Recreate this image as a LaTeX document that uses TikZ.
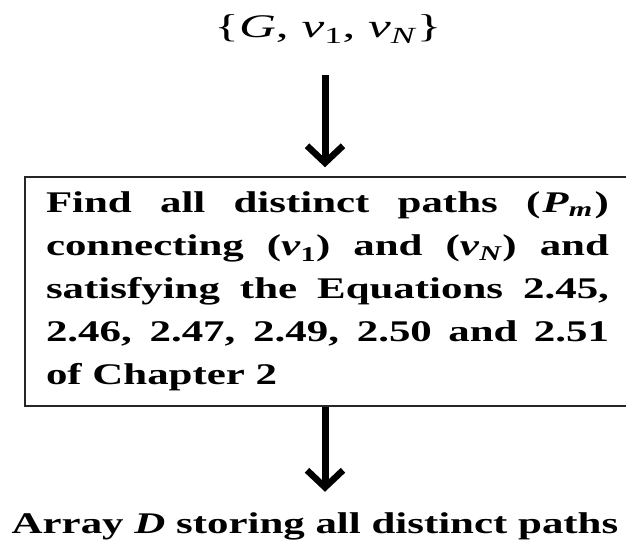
\documentclass[tikz,border=0pt]{standalone}
\usepackage{fontspec}
\setmainfont{Liberation Serif}[FakeStretch=1.43]
\newfontfamily\topfont{Liberation Serif}[FakeStretch=1.55]
\usetikzlibrary{arrows.meta}
\begin{document}
\begin{tikzpicture}[x=1pt,y=-1pt,
  arr/.style={line width=7pt, -{Straight Barb[length=17pt,width=36pt,line width=6.5pt]}},
  box/.style={draw=black!85, line width=1.5pt, text width=563pt, inner xsep=21pt, inner ysep=0pt,
    minimum height=229pt, align=justify, font=\fontsize{30}{43}\selectfont\bfseries}]
\useasboundingbox (0,0) rectangle (626,545);
\node (inp) at (328,29) {\topfont\fontsize{33}{38}\selectfont \{\textit{G}, \textit{v}\textsubscript{1}, \textit{v}\textsubscript{\textit{N}}\}};
\node[box] (box) at (327.5,291.5) {\hyphenpenalty=10000 Find all distinct paths (\kern2pt\textit{P}\textsubscript{\textit{m}}\kern2pt)\linebreak connecting (\textit{v}\textsubscript{1}) and (\textit{v}\textsubscript{\textit{N}}) and\linebreak satisfying the Equations 2.45,\linebreak 2.46, 2.47, 2.49, 2.50 and 2.51\linebreak of Chapter 2};
\node[font=\fontsize{30}{36}\selectfont\bfseries] (out) at (315,526) {Array \textit{D} storing all distinct paths};
\draw[arr, shorten <=28pt, shorten >=9pt] ([xshift=-3pt]inp.south) -- ([xshift=-2.5pt]box.north);
\draw[arr, shorten >=17pt] ([xshift=-2.5pt]box.south) -- ([xshift=10pt]out.north);
\end{tikzpicture}
\end{document}
